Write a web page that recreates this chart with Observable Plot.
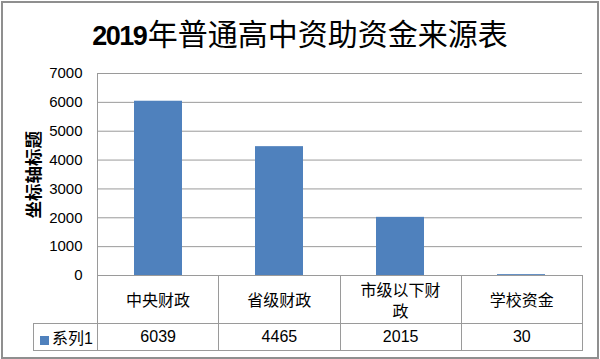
<!DOCTYPE html>
<html>
<head>
<meta charset="utf-8">
<script src="https://cdn.jsdelivr.net/npm/d3@7"></script>
<script src="https://cdn.jsdelivr.net/npm/@observablehq/plot@0.6"></script>
<style>
  html, body { margin: 0; padding: 0; background: #fff; }
  #wrap { position: relative; width: 600px; height: 359px; background: #fff; overflow: hidden; }
  #border { position: absolute; left: 1px; top: 1px; width: 594px; height: 354px; border: 2px solid #8f8f8f; }
  #title { position: absolute; left: 0; top: 13px; width: 600px; text-align: center; font-family: "Noto Sans CJK SC", sans-serif; font-size: 30px; line-height: 38px; color: #000; white-space: nowrap; }
  #title b { font-family: "Liberation Sans", sans-serif; font-weight: bold; font-size: 27px; letter-spacing: -1.5px; margin-right: 1.5px; }
  #plot { position: absolute; left: 0; top: 0; }
  #tbl { position: absolute; left: 33px; top: 275px; border-collapse: collapse; table-layout: fixed; font-family: "Liberation Sans", "Noto Sans CJK SC", sans-serif; font-size: 16px; color: #000; }
  #tbl td { border: 1px solid #9a9a9a; padding: 0; text-align: center; vertical-align: middle; }
  #tbl td.cat { padding: 0 20px; line-height: 21px; font-family: "Noto Sans CJK SC", sans-serif; }
  #tbl td.blank { border-top: none; border-left: none; }
  #tbl td.leg { text-align: left; padding-left: 6px; white-space: nowrap; font-family: "Noto Sans CJK SC", sans-serif; }
  #tbl td.leg span.sw { display: inline-block; width: 9px; height: 9px; background: #4F81BD; margin-right: 3px; vertical-align: -1px; }
  #tbl td.leg span.t1 { font-family: "Liberation Sans", sans-serif; }
</style>
</head>
<body>
<div id="wrap">
  <div id="border"></div>
  <div id="title"></div>
  <div id="plot"></div>
  <table id="tbl"></table>
</div>
<script>
const titleText = "2019年普通高中资助资金来源表";
const yTitle = "坐标轴标题";
const seriesName = "系列1";
const categories = ["中央财政", "省级财政", "市级以下财政", "学校资金"];
const values = [6039, 4465, 2015, 30];
const yTicks = [0, 1000, 2000, 3000, 4000, 5000, 6000, 7000];

const data = categories.map((c, i) => ({cat: c, value: values[i]}));

document.getElementById("title").innerHTML = titleText.replace(/(\d+)/, "<b>$1</b>");

const gray = "#9a9a9a";
const chart = Plot.plot({
  width: 600,
  height: 359,
  marginTop: 73,
  marginBottom: 84,
  marginLeft: 97,
  marginRight: 18,
  style: {fontFamily: "'Liberation Sans','Noto Sans CJK SC',sans-serif", fontSize: "15px", color: "#000", background: "transparent"},
  x: {domain: categories, paddingInner: 0.6, paddingOuter: 0.3, axis: null},
  y: {domain: [0, 7000], axis: null},
  marks: [
    Plot.gridY(yTicks, {stroke: gray, strokeOpacity: 1}),
    Plot.frame({anchor: "left", stroke: gray}),
    Plot.barY(data, {x: "cat", y: "value", fill: "#4F81BD"}),
    Plot.axisY(yTicks, {tickSize: 0, tickPadding: 15, fontSize: 15, label: null, tickFormat: d => String(d)}),
    Plot.text([yTitle], {frameAnchor: "left", dx: -63, dy: 44, rotate: -90, fontSize: 17.5, fontWeight: "bold", fontFamily: "'Noto Sans CJK SC',sans-serif", fill: "#000"})
  ]
});
document.getElementById("plot").appendChild(chart);

// data table below the plot
const step = (600 - 18 - 97) / categories.length;
const tbl = document.getElementById("tbl");
const colgroup = document.createElement("colgroup");
[64, ...categories.map(() => step)].forEach(w => {
  const col = document.createElement("col");
  col.style.width = w + "px";
  colgroup.appendChild(col);
});
tbl.appendChild(colgroup);
const tr1 = document.createElement("tr");
tr1.style.height = "48px";
const blank = document.createElement("td");
blank.className = "blank";
tr1.appendChild(blank);
categories.forEach(c => {
  const td = document.createElement("td");
  td.className = "cat";
  td.textContent = c;
  tr1.appendChild(td);
});
tbl.appendChild(tr1);
const tr2 = document.createElement("tr");
tr2.style.height = "27px";
const leg = document.createElement("td");
leg.className = "leg";
leg.innerHTML = '<span class="sw"></span>' + seriesName.replace(/(\d+)/, '<span class="t1">$1</span>');
tr2.appendChild(leg);
values.forEach(v => {
  const td = document.createElement("td");
  td.textContent = String(v);
  tr2.appendChild(td);
});
tbl.appendChild(tr2);
</script>
</body>
</html>
